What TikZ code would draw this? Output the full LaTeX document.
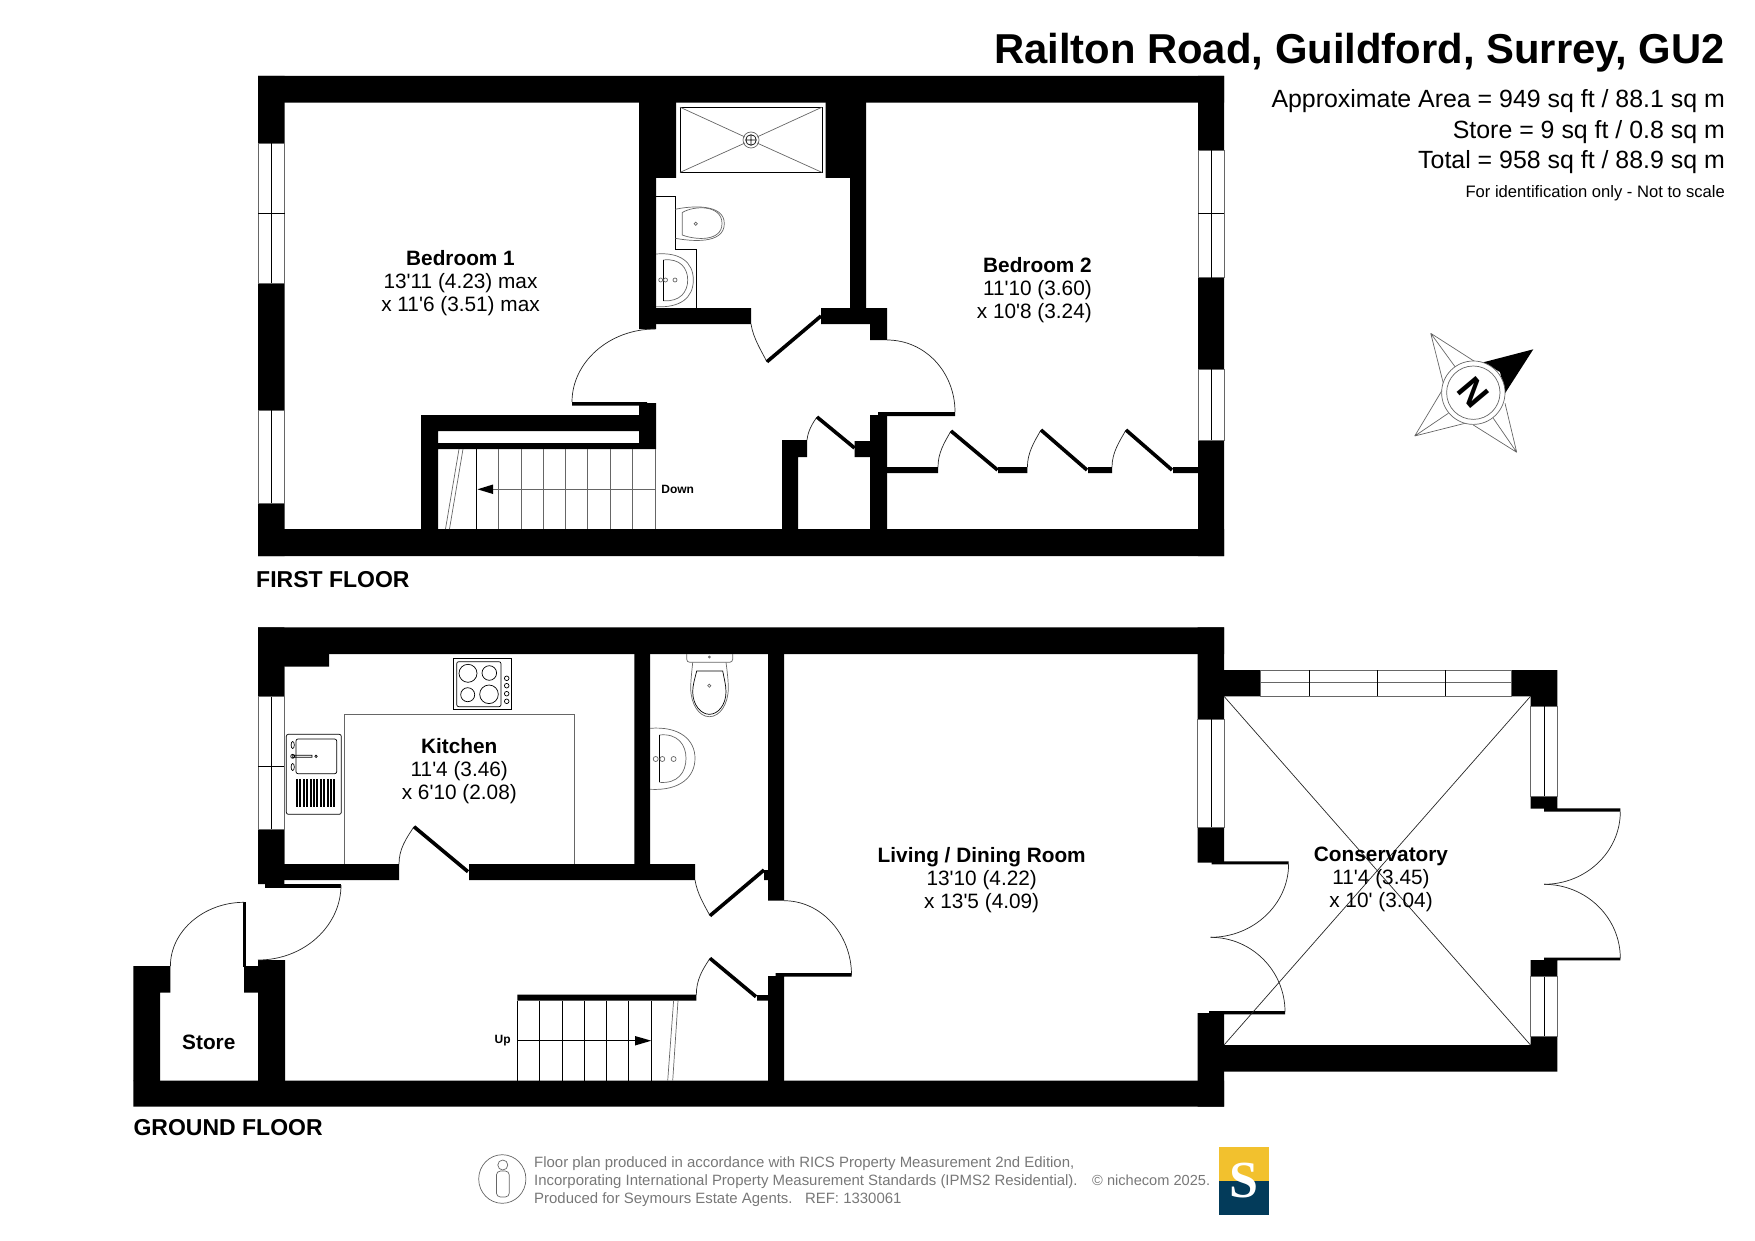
\documentclass[tikz,border=0pt]{standalone}
\usepackage{fontspec}
\setmainfont[Ligatures=TeXOff]{Liberation Sans}
\newfontfamily\logofont{Liberation Serif}
\definecolor{logoyellow}{HTML}{F2C12E}
\definecolor{logonavy}{HTML}{033B5A}
\definecolor{footgrey}{HTML}{777777}
\tikzset{
    wall/.style={fill=black},
    thinline/.style={draw=black, line width=0.7pt},
    greyline/.style={draw=black!60, line width=0.7pt},
    arcline/.style={draw=black!85, line width=0.7pt},
    leaf/.style={draw=black, line width=3.6pt},
    room/.style={align=center, inner sep=0pt, font=\fontsize{20.8}{23}\selectfont},
    roomright/.style={align=right, inner sep=0pt, font=\fontsize{20.8}{23}\selectfont},
    floorname/.style={anchor=base west, inner sep=0pt, font=\fontsize{23}{26}\selectfont\bfseries},
    arealine/.style={anchor=base east, inner sep=0pt, font=\fontsize{24.9}{28}\selectfont},
    footline/.style={anchor=base west, inner sep=0pt, text=footgrey, font=\fontsize{14.95}{17}\selectfont},
    stairlabel/.style={inner sep=0pt, font=\fontsize{12}{14}\selectfont\bfseries},
}
\begin{document}
\begin{tikzpicture}[x=1pt,y=-1pt]
    \useasboundingbox (0,0) rectangle (1755,1241);

    % first floor walls
    \fill[wall] (258,76) rectangle (1224,102.7) (258,529) rectangle (1224,556);
    \fill[wall] (258,76) rectangle (284.6,143) (258,283) rectangle (284.6,410) (258,503) rectangle (284.6,556);
    \fill[wall] (1198,76) rectangle (1224,150) (1198,277.5) rectangle (1224,369) (1198,440) rectangle (1224,556);
    \fill[wall] (639,102) rectangle (676,178) (639,178) rectangle (656,329);
    \fill[wall] (825.5,102) rectangle (866,178) (850,178) rectangle (866,308);
    \fill[wall] (656,308) rectangle (751,324) (821,308) rectangle (887,324) (870,308) rectangle (887,340);
    \fill[wall] (639,403) rectangle (656,449) (421,415) rectangle (656,431) (421,443) rectangle (656,449) (421,415) rectangle (438,529);
    \fill[wall] (572,402) rectangle (647,405.5) (878,412) rectangle (955,416);
    \fill[wall] (782,440) rectangle (798,529) (782,440) rectangle (807,457) (854.6,441) rectangle (870,457) (870,415) rectangle (887,529);
    \fill[wall] (887,467) rectangle (938,473) (998,467) rectangle (1027.4,473) (1088,467) rectangle (1112,473) (1173,467) rectangle (1198,473);

    % first floor windows
    \foreach \xa/\xb/\ya/\yb in {258/284.6/143/283, 258/284.6/410/503, 1198/1224/150/277.5, 1198/1224/369/440} {
        \draw[greyline] (\xa,\ya) rectangle (\xb,\yb);
        \draw[thinline] ({(\xa+\xb)/2},\ya) -- ({(\xa+\xb)/2},\yb);
    }
    \draw[thinline] (258,213) -- (284.6,213) (1198,213.5) -- (1224,213.5);

    % first floor doors
    \draw[arcline] (751,324) .. controls +(2,14) and +(-5,-10) .. (767,362);
    \draw[leaf] (821,316) -- (767,361.7);
    \draw[arcline] (655.4,329) .. controls +(-46,0) and +(0,-40) .. (572,402);
    \draw[arcline] (887,340) .. controls +(38,0) and +(0,-40) .. (955,412);
    \draw[arcline] (807,440) .. controls +(1,-9) and +(-5,7) .. (817,417);
    \draw[leaf] (817,417) -- (854.6,448);
    \draw[arcline] (938,467) .. controls +(0,-14) and +(-7,12) .. (951,431);
    \draw[leaf] (951,431) -- (997.6,470);
    \draw[arcline] (1027.4,467) .. controls +(0,-14) and +(-7,12) .. (1041,430);
    \draw[leaf] (1041,430) -- (1087,470);
    \draw[arcline] (1112,467) .. controls +(0,-14) and +(-7,12) .. (1126,430);
    \draw[leaf] (1126,430) -- (1172,470);

    % first floor stairs
    \foreach \xt in {498,521,543.5,565.7,587.5,610,632.6,655}
        \draw[greyline] (\xt,449) -- (\xt,529);
    \draw[thinline] (476.5,449) -- (476.5,529);
    \draw[greyline] (463,449) -- (449.5,529) (459,449) -- (445.5,529);
    \draw[greyline] (655,489.3) -- (492,489.3);
    \fill[wall] (477.5,489.3) -- (493,484.5) -- (493,494) -- cycle;
    \node[stairlabel] (down) at (677.7,489.5) {Down};

    % shower, toilet and basin upstairs
    \draw[draw=black, line width=1pt] (680,107.2) rectangle (822,172.4);
    \draw[greyline] (680,107.2) -- (745,137) (822,107.2) -- (757,137) (680,172.4) -- (745,143) (822,172.4) -- (757,143);
    \draw[greyline] (751,140) circle (8);
    \draw[thinline] (751,140) circle (5.3) (745.7,140) -- (756.3,140) (751,134.7) -- (751,145.3);
    \draw[thinline] (656,196) -- (675.3,196) -- (675.3,249.3) -- (696.3,249.3) -- (696.3,308);
    \draw[greyline] (675.3,209.3) .. controls (690,206) and (724.3,203) .. (724.3,223.5) .. controls (724.3,245) and (690,241) .. (675.3,238.3);
    \draw[greyline] (682.3,212.5) .. controls (695,205) and (722,205) .. (722,223.5) .. controls (722,242) and (695,240) .. (682.3,235) -- cycle;
    \draw[greyline] (695.7,223.7) circle (1.6);
    \draw[greyline] (656,254) .. controls (680,252) and (693.3,262) .. (693.3,280) .. controls (693.3,298) and (680,308) .. (656,306.7);
    \draw[greyline] (663.3,260) .. controls (680,258) and (687.7,268) .. (687.7,280) .. controls (687.7,292) and (680,302) .. (663.3,300.7);
    \draw[thinline] (663.3,260) -- (663.3,300.7);
    \draw[greyline] (675,280) circle (2) (660.7,280) circle (2) (665.5,280) circle (2);

    % first floor text
    \node[room] (bedone) at (460.5,283) {\textbf{Bedroom 1}\\13'11 (4.23) max\\x 11'6 (3.51) max};
    \node[roomright, anchor=east] (bedtwo) at (1092,290.5) {\textbf{Bedroom 2}\\11'10 (3.60)\\x 10'8 (3.24)};
    \node[floorname] (firstfloor) at (256,587) {FIRST FLOOR};

    % ground floor walls
    \fill[wall] (258,627.3) rectangle (1224,654) (133.4,1080.7) rectangle (1224,1106.7);
    \fill[wall] (258,627.3) rectangle (284.3,696.7) (258,654) rectangle (329,666.7) (258,829.3) rectangle (284.3,884);
    \fill[wall] (284,864) rectangle (399,880) (469,864) rectangle (695,880) (634.3,654) rectangle (650,864);
    \fill[wall] (265,884.3) rectangle (341,887.7);
    \fill[wall] (768,654) rectangle (784,900.7) (768,976) rectangle (784,1081) (775.7,973) rectangle (851.5,976.7);
    \fill[wall] (764,870) rectangle (768,880) (757,995) rectangle (768,1000.7) (517.3,994.7) rectangle (696.3,1000.7);
    \fill[wall] (133.4,966) rectangle (160,1081) (133.4,966) rectangle (170.4,992.7) (244,966) rectangle (258,992.7) (258,960) rectangle (285,1081);
    \fill[wall] (243,902.3) rectangle (246.3,967);
    \fill[wall] (1197.7,627.3) rectangle (1224,719.3) (1197.7,827.3) rectangle (1224,862.7) (1197.7,1013) rectangle (1224,1106.7);
    \fill[wall] (1211.7,861.3) rectangle (1288.6,864.3) (1209,1011) rectangle (1285,1014.3);
    \fill[wall] (1224,670) rectangle (1260.6,696.3) (1511,670) rectangle (1557.4,696.3) (1530.5,670) rectangle (1557.4,706);
    \fill[wall] (1530.5,796) rectangle (1557.4,808.7) (1544,808.3) rectangle (1620.3,811.7);
    \fill[wall] (1544,957.7) rectangle (1620.3,960.3) (1530.5,960) rectangle (1557.4,976.7);
    \fill[wall] (1530.5,1036) rectangle (1557.4,1071.7) (1224,1045) rectangle (1557.4,1071.7);

    % ground floor windows
    \foreach \xa/\xb/\ya/\yb in {258/284.3/696.7/829.3, 1197.7/1224/719.3/827.3, 1530.5/1557.4/706/796, 1530.5/1557.4/976.7/1036} {
        \draw[greyline] (\xa,\ya) rectangle (\xb,\yb);
        \draw[thinline] ({(\xa+\xb)/2},\ya) -- ({(\xa+\xb)/2},\yb);
    }
    \draw[thinline] (258,766) -- (284.3,766);
    \draw[greyline] (1260.6,670) rectangle (1511,696.3) (1260.6,682.7) -- (1511,682.7);
    \foreach \xt in {1309.4,1377.3,1445.8}
        \draw[thinline] (\xt,670) -- (\xt,696.3);

    % ground floor doors
    \draw[arcline] (170.4,966) .. controls +(0,-35) and +(-40,0) .. (244,902.3);
    \draw[arcline] (258,960) .. controls +(46,0) and +(0,41) .. (341,885);
    \draw[arcline] (399,864) .. controls +(0,-15) and +(-8,12) .. (414,826.7);
    \draw[leaf] (414,826.7) -- (468,871.7);
    \draw[arcline] (695,880) .. controls +(2,13) and +(-6,-11) .. (710,915.7);
    \draw[leaf] (710,915.7) -- (764,870);
    \draw[arcline] (784,900.7) .. controls +(37,0) and +(0,-41) .. (851.5,975);
    \draw[arcline] (696.3,995) .. controls +(0,-15) and +(-8,12) .. (710,958.3);
    \draw[leaf] (710,958.3) -- (756,996.7);
    \draw[arcline] (1288.6,864) .. controls +(0,40) and +(43,0) .. (1210.6,937.3);
    \draw[arcline] (1210.6,937.3) .. controls +(41,0) and +(0,-41) .. (1285,1011.7);
    \draw[arcline] (1620.3,811.7) .. controls +(0,40) and +(42,0) .. (1544,884.3);
    \draw[arcline] (1544,884.3) .. controls +(42,0) and +(0,-41) .. (1620.3,958.3);

    % conservatory roof
    \draw[arcline] (1224,696.3) -- (1530.5,1045) (1530.5,696.3) -- (1224,1045);

    % ground floor stairs
    \foreach \xt in {517.3,539.6,562,584.3,606.6,628.5,651.3}
        \draw[thinline] (\xt,1000.7) -- (\xt,1080.7);
    \draw[greyline] (678,1000.7) -- (672.7,1080.7) (673.6,1000.7) -- (667.7,1080.7);
    \draw[thinline] (517.3,1040.7) -- (637,1040.7);
    \fill[wall] (651.3,1040.7) -- (635,1036) -- (635,1045.5) -- cycle;
    \node[stairlabel] (up) at (502.6,1040.5) {Up};

    % kitchen fittings
    \draw[greyline] (284.3,666.7) -- (284.3,864) (344.5,864) -- (344.5,714.3) -- (574,714.3) -- (574,864);
    \draw[thinline] (453.3,658.3) rectangle (511.7,709.3);
    \draw[thinline, rounded corners=2pt] (456.7,661.7) rectangle (501,706.7);
    \draw[thinline] (468,673.3) circle (9) (489.3,673) circle (7.3) (467.7,694.7) circle (7) (489,694.3) circle (9.3);
    \foreach \yk in {678.3,685.7,693.7,701.3}
        \draw[thinline] (506.7,\yk) circle (2.3);
    \draw[thinline, rounded corners=2pt] (286.3,734.3) rectangle (341.3,814.3);
    \draw[thinline, rounded corners=2pt] (296,739) rectangle (336.7,773.7);
    \foreach \xd in {297,300.4,...,336.5}
        \draw[draw=black, line width=1.9pt] (\xd,779.3) -- (\xd,806.7);
    \draw[thinline] (292.7,755.3) rectangle (312,757.3) (292.7,756.3) circle (2) (316,756.3) circle (1.2);
    \draw[thinline] (292.7,745) ellipse (1.6 and 3.5) (292.7,767) ellipse (1.6 and 3.5);

    % cloakroom fittings
    \draw[greyline, rounded corners=3pt] (686.7,654) -- (686.7,662.3) -- (732.7,662.3) -- (732.7,654);
    \draw[greyline] (692.7,662.3) .. controls (692,670) and (690.7,680) .. (690.7,688) .. controls (690.7,704) and (699,716.7) .. (709.3,716.7) .. controls (720,716.7) and (728.3,704) .. (728.3,688) .. controls (728.3,680) and (727,670) .. (726,662.3);
    \draw[thinline] (696.7,671) -- (722.7,671) .. controls (724,678) and (726,685) .. (726,691.7) .. controls (726,705) and (718,714.3) .. (709.3,714.3) .. controls (701,714.3) and (692.7,705) .. (692.7,691.7) .. controls (692.7,685) and (695,678) .. (696.7,671) -- cycle;
    \draw[greyline] (709.3,685.7) circle (1.6) (709.3,657) circle (1);
    \draw[greyline] (650,728.3) .. controls (680,726) and (695,740) .. (695,758.3) .. controls (695,777) and (680,791) .. (650,789.3);
    \draw[greyline] (659.3,735) .. controls (678,733) and (686,745) .. (686,758.3) .. controls (686,772) and (678,784) .. (659.3,782.3);
    \draw[thinline] (659.3,735) -- (659.3,782.3);
    \draw[greyline] (673.6,759) circle (2.5) (655.7,759) circle (2.5) (662.3,759) circle (2.5);

    % ground floor text
    \node[room] (kitchen) at (459.3,771) {\textbf{Kitchen}\\11'4 (3.46)\\x 6'10 (2.08)};
    \node[room] (living) at (981.7,880.3) {\textbf{Living / Dining Room}\\13'10 (4.22)\\x 13'5 (4.09)};
    \node[room] (conservatory) at (1381,879.7) {\textbf{Conservatory}\\11'4 (3.45)\\x 10' (3.04)};
    \node[room] (store) at (208.8,1042.5) {\textbf{Store}};
    \node[floorname] (groundfloor) at (133.4,1135.5) {GROUND FLOOR};

    % title block
    \node[anchor=base east, inner sep=0pt, font=\fontsize{41.8}{46}\selectfont\bfseries] (title) at (1725,64) {Railton Road, Guildford, Surrey, GU2};
    \node[arealine] (area) at (1725,107.5) {Approximate Area = 949 sq ft / 88.1 sq m};
    \node[arealine] (storearea) at (1725,138.5) {Store = 9 sq ft / 0.8 sq m};
    \node[arealine] (total) at (1725,168.5) {Total = 958 sq ft / 88.9 sq m};
    \node[anchor=base east, inner sep=0pt, font=\fontsize{16.6}{18}\selectfont] (idonly) at (1725,197.6) {For identification only - Not to scale};

    % compass
    \fill[wall] (1533.3,349.3) -- (1483.3,362.3) -- (1500,372) -- (1505,393.3) -- cycle;
    \draw[greyline] (1430.7,333.3) -- (1475,361.7) (1430.7,333.3) -- (1443.3,383.3) (1430.7,333.3) -- (1455,366.7);
    \draw[greyline] (1414.7,436) -- (1443.3,388.3) (1414.7,436) -- (1465,423.3) (1414.7,436) -- (1448.3,413.3);
    \draw[greyline] (1516.7,452.3) -- (1473.3,425) (1516.7,452.3) -- (1505,403.3) (1516.7,452.3) -- (1493.3,418.3);
    \draw[greyline, fill=white] (1473.3,392.7) circle (31.7);
    \draw[greyline] (1473.3,392.7) circle (26.7);
    \node[inner sep=0pt, rotate=-50, font=\fontsize{36}{36}\selectfont\bfseries] (north) at (1473.3,392.7) {N};

    % footer
    \draw[greyline] (502.3,1179) ellipse (23.6 and 24.3);
    \draw[greyline] (502.8,1165) circle (5);
    \draw[greyline, rounded corners=4pt] (496.4,1171) rectangle (509.3,1197);
    \node[footline] (footone) at (534,1167) {Floor plan produced in accordance with RICS Property Measurement 2nd Edition,};
    \node[footline] (foottwo) at (534,1185.5) {Incorporating International Property Measurement Standards (IPMS2 Residential).};
    \node[footline] (footthree) at (534,1203.5) {Produced for Seymours Estate Agents.\ \ \ REF: 1330061};
    \node[footline, font=\fontsize{14.6}{17}\selectfont] (niche) at (1092,1185.5) {© nichecom 2025.};
    \fill[logoyellow] (1219,1147.3) rectangle (1269,1180.7);
    \fill[logonavy] (1219,1180.7) rectangle (1269,1215);
    \node[inner sep=0pt, text=white, font=\fontsize{52}{52}\selectfont\logofont\bfseries] (logos) at (1244,1181) {S};
\end{tikzpicture}
\end{document}
